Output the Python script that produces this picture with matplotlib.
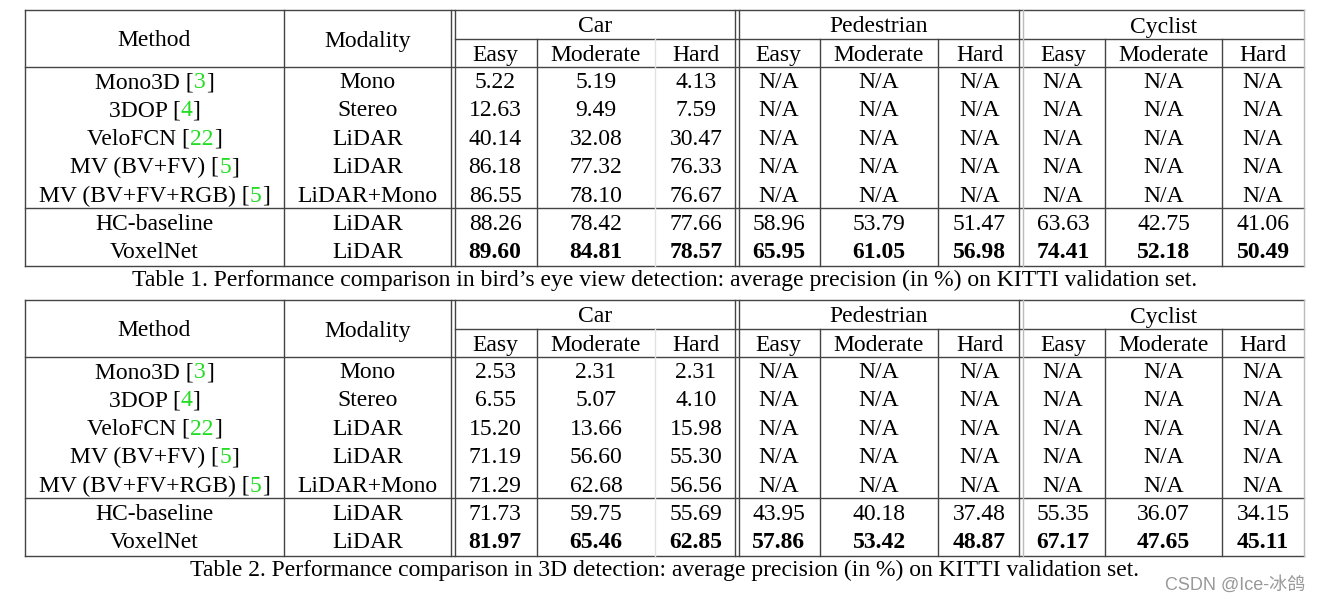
import matplotlib
matplotlib.use('Agg')
import matplotlib.pyplot as plt

# フォント設定
plt.rcParams['font.family'] = ['Liberation Serif', 'DejaVu Serif']

# データ
methods = ["Mono3D", "3DOP", "VeloFCN", "MV (BV+FV)", "MV (BV+FV+RGB)", "HC-baseline", "VoxelNet"]
refs = ["3", "4", "22", "5", "5", "", ""]
modality = ["Mono", "Stereo", "LiDAR", "LiDAR", "LiDAR+Mono", "LiDAR", "LiDAR"]
groups = ["Car", "Pedestrian", "Cyclist"]
levels = ["Easy", "Moderate", "Hard"]

bev_car = [["5.22", "5.19", "4.13"], ["12.63", "9.49", "7.59"], ["40.14", "32.08", "30.47"],
           ["86.18", "77.32", "76.33"], ["86.55", "78.10", "76.67"],
           ["88.26", "78.42", "77.66"], ["89.60", "84.81", "78.57"]]
bev_ped = [["N/A"] * 3] * 5 + [["58.96", "53.79", "51.47"], ["65.95", "61.05", "56.98"]]
bev_cyc = [["N/A"] * 3] * 5 + [["63.63", "42.75", "41.06"], ["74.41", "52.18", "50.49"]]

det3d_car = [["2.53", "2.31", "2.31"], ["6.55", "5.07", "4.10"], ["15.20", "13.66", "15.98"],
             ["71.19", "56.60", "55.30"], ["71.29", "62.68", "56.56"],
             ["71.73", "59.75", "55.69"], ["81.97", "65.46", "62.85"]]
det3d_ped = [["N/A"] * 3] * 5 + [["43.95", "40.18", "37.48"], ["57.86", "53.42", "48.87"]]
det3d_cyc = [["N/A"] * 3] * 5 + [["55.35", "36.07", "34.15"], ["67.17", "47.65", "45.11"]]

captions = [
    "Table 1. Performance comparison in bird\u2019s eye view detection: average precision (in %) on KITTI validation set.",
    "Table 2. Performance comparison in 3D detection: average precision (in %) on KITTI validation set.",
]

# レイアウト（ピクセル座標）
W, H = 1322, 605
col_edges = [25, 284, 453, 537, 655, 737, 820, 938, 1021, 1105, 1222, 1304]
FS = 17
DY = 2.5  # テキストの縦位置補正
LINE = '#444444'
GREEN = '#22dd22'

fig = plt.figure(figsize=(W / 100, H / 100), dpi=100)
ax = fig.add_axes([0, 0, 1, 1])
ax.set_xlim(0, W)
ax.set_ylim(H, 0)
ax.axis('off')
renderer = fig.canvas.get_renderer()


def width_of(s, **kw):
    t = ax.text(0, 0, s, fontsize=FS, **kw)
    w = t.get_window_extent(renderer).width
    t.remove()
    return w


def cell(x, y, s, **kw):
    ax.text(x, y + DY, s, fontsize=FS, ha='center', va='center', **kw)


def draw_method(x, y, name, ref):
    if not ref:
        cell(x, y, name)
        return
    parts = [(name + " [", 'black'), (ref, GREEN), ("]", 'black')]
    widths = [width_of(p) for p, _ in parts]
    x0 = x - sum(widths) / 2
    for (p, c), w in zip(parts, widths):
        ax.text(x0, y + DY, p, fontsize=FS, ha='left', va='center', color=c)
        x0 += w


def draw_table(top, car, ped, cyc, caption):
    sub = top + 29
    head = top + 57
    rows = [top + 70 + 28.4 * i for i in range(7)]
    sep = top + 198
    bottom = top + 256

    # 横線
    ax.plot([25, 1304], [top, top], color=LINE, lw=1)
    ax.plot([455, 1304], [sub, sub], color=LINE, lw=1)
    ax.plot([25, 1304], [head, head], color=LINE, lw=1)
    ax.plot([25, 1304], [sep, sep], color=LINE, lw=1)
    ax.plot([25, 1304], [bottom, bottom], color=LINE, lw=1)

    # 縦線
    full = [(25, LINE), (284, LINE), (451, LINE), (455, LINE), (735, LINE), (739, LINE),
            (1019, LINE), (1023, '#bbbbbb'), (1304, '#bbbbbb')]
    for x, c in full:
        ax.plot([x, x], [top, bottom], color=c, lw=1)
    inner = [(537, LINE), (655, '#e2e2e2'), (820, LINE), (938, LINE), (1105, LINE), (1222, LINE)]
    for x, c in inner:
        ax.plot([x, x], [sub, bottom], color=c, lw=1)

    # ヘッダー
    cell((25 + 284) / 2, (top + head) / 2, "Method")
    cell((284 + 451) / 2, (top + head) / 2, "Modality")
    group_bounds = [(455, 735), (739, 1019), (1023, 1304)]
    for g, (a, b) in zip(groups, group_bounds):
        cell((a + b) / 2, (top + sub) / 2, g)
    centers = [(col_edges[i] + col_edges[i + 1]) / 2 for i in range(2, 11)]
    for i, c in enumerate(centers):
        cell(c, (sub + head) / 2, levels[i % 3])

    # 本体
    for r in range(7):
        y = rows[r]
        draw_method((25 + 284) / 2, y, methods[r], refs[r])
        cell((284 + 451) / 2, y, modality[r])
        vals = car[r] + ped[r] + cyc[r]
        weight = 'bold' if methods[r] == "VoxelNet" else 'normal'
        for c, v in zip(centers, vals):
            cell(c, y, v, fontweight=weight)

    ax.text(664.5, bottom + 14, caption, fontsize=FS, ha='center', va='center')


draw_table(10, bev_car, bev_ped, bev_cyc, captions[0])
draw_table(300, det3d_car, det3d_ped, det3d_cyc, captions[1])

ax.text(1305, 585, "CSDN @Ice-冰鸽", fontsize=13, ha='right', va='center', color='#999999',
        family=['Liberation Sans', 'Noto Sans CJK SC'])

plt.savefig("out.png", dpi=100)
